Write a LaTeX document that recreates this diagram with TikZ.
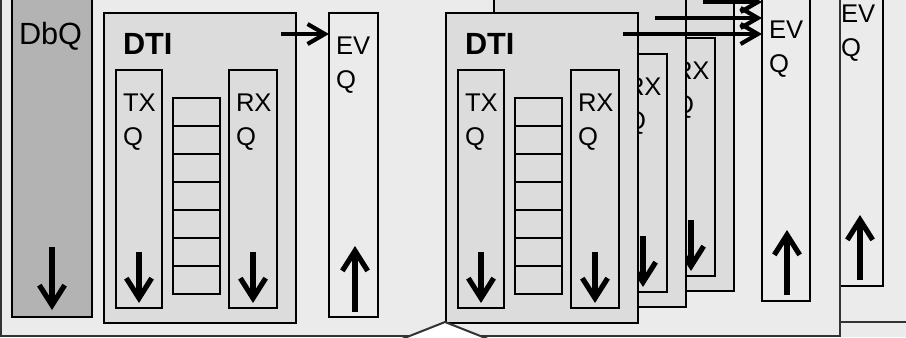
\documentclass[tikz,border=0pt]{standalone}
\usepackage{fontspec}
\setmainfont{Liberation Sans}
\usetikzlibrary{arrows.meta}
\definecolor{bgc}{HTML}{EBEBEB}
\definecolor{panc}{HTML}{DCDCDC}
\definecolor{dbc}{HTML}{B3B3B3}
\definecolor{edgec}{HTML}{333333}
\tikzset{
  x=0.75pt, y=-0.75pt,
  box/.style={draw=black, line width=1.5pt, anchor=north west, inner sep=0pt, outer sep=0pt},
  cell/.style={draw=black, line width=1.5pt, fill=panc},
  bigtext/.style={font=\fontsize{23}{27}\selectfont},
  smalltext/.style={font=\fontsize{19.2}{23}\selectfont},
  lbl/.style={anchor=base west, inner sep=0pt, outer sep=0pt},
  vflow/.style={line width=3.9pt, -{Straight Barb[length=15pt,width=19pt]}},
  hflow/.style={line width=3.1pt, -{Straight Barb[length=13pt,width=15pt]}},
}
\newcommand\bx[6]{\node[box,#6,minimum width={(#3-(#1))*0.75pt},minimum height={(#4-(#2))*0.75pt}] (#5) at (#1,#2) {};}
\newcommand\qtext[4]{%
  \node[lbl,smalltext] (#3a) at (#1+7,#2+41.5) {#4};
  \node[lbl,smalltext] (#3b) at (#1+7,#2+75) {Q};}
\newcommand\dtipanel[3]{%
  \bx{#1}{#2}{#1+192}{#2+310}{#3}{fill=panc}
  \node[lbl,bigtext] (#3t) at (#1+19,#2+41) {\textbf{DTI}};
  \bx{#1+12}{#2+57}{#1+58}{#2+295}{#3tx}{fill=panc}
  \bx{#1+125}{#2+57}{#1+173}{#2+295}{#3rx}{fill=panc}
  \qtext{#1+12}{#2+57}{#3tx}{TX}
  \qtext{#1+125}{#2+57}{#3rx}{RX}
  \foreach \k in {0,...,6} \draw[cell] (#1+69,#2+85+28*\k) rectangle ++(47,28);
  \draw[vflow] (#1+35,#2+239) -- (#1+35,#2+290);
  \draw[vflow] (#1+149,#2+239) -- (#1+149,#2+290);
}
\begin{document}
\begin{tikzpicture}
\useasboundingbox (0,0) rectangle (906,337);
\clip (0,0) rectangle (906,337);
\fill[bgc] (0,0) rectangle (906,337);
% back layer
\bx{73}{-60}{912}{322}{layerB}{fill=bgc, draw=edgec}
\bx{834}{-19}{883}{286}{evqC}{fill=bgc}
\qtext{834}{-19}{evqC}{EV}
\draw[vflow] (860,280) -- (860,215);
% front layer
\bx{1}{-60}{840}{335.5}{layerA}{fill=bgc, draw=edgec}
\bx{12}{-20}{92}{317}{dbq}{fill=dbc}
\node[lbl,bigtext] (dbqt) at (19,44) {DbQ};
\draw[vflow] (52,247) -- (52,310);
\dtipanel{104}{13}{dA}
\bx{329}{13}{378}{317}{evqA}{fill=bgc}
\qtext{329}{13}{evqA}{EV}
\draw[vflow] (355,312) -- (355,246);
% stack of DTI panels
\dtipanel{542}{-19}{dD}
\dtipanel{494}{-3}{dC}
\dtipanel{446}{13}{dB}
\bx{762}{-3}{810}{301}{evqB}{fill=bgc}
\qtext{762}{-3}{evqB}{EV}
\draw[vflow] (787,295) -- (787,230);
% connectors DTI -> EVQ
\coordinate (sA) at (281,34);
\coordinate (sB) at (623,34);
\coordinate (sC) at (655,18);
\coordinate (sD) at (703,2);
\draw[hflow] (sA) -- (sA -| evqA.west);
\draw[hflow] (sB) -- (sB -| evqB.west);
\draw[hflow] (sC) -- (sC -| evqB.west);
\draw[hflow] (sD) -- (sD -| evqB.west);
% callout pointer
\fill[white] (402,339) -- (445,322) -- (488,339) -- cycle;
\draw[edgec, line width=1.5pt] (402,339) -- (445,322) -- (488,339);
\end{tikzpicture}
\end{document}
